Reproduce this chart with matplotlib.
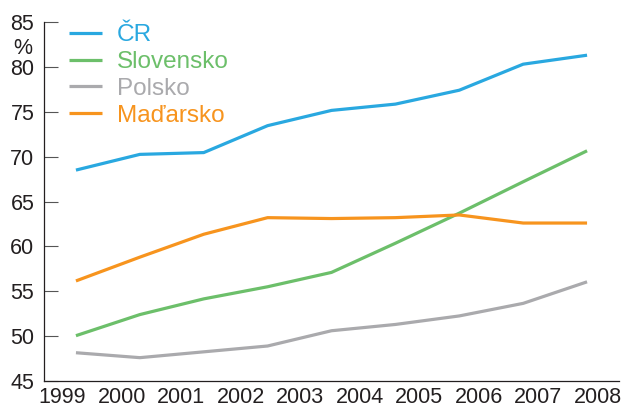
import numpy as np
import matplotlib.pyplot as plt

plt.rcParams['font.family'] = ['Liberation Sans', 'DejaVu Sans']

# values (9 points per series)
cr = [68.5, 70.25, 70.45, 73.45, 75.15, 75.85, 77.4, 80.3, 81.3]
slovensko = [50.05, 52.4, 54.15, 55.5, 57.1, 60.35, 63.7, 67.2, 70.65]
polsko = [48.15, 47.6, 48.25, 48.9, 50.6, 51.3, 52.25, 53.65, 56.05]
madarsko = [56.15, 58.8, 61.35, 63.2, 63.1, 63.2, 63.5, 62.6, 62.6]

series_names = ['ČR', 'Slovensko', 'Polsko', 'Maďarsko']
year_labels = ['1999', '2000', '2001', '2002', '2003', '2004', '2005', '2006', '2007', '2008']

colors = ['#29a8e0', '#6cbf6a', '#aaaaad', '#f7941e']
text_color = '#231f20'

fig = plt.figure(figsize=(6.24, 4.05), dpi=100)
ax = fig.add_axes([44/624, 24/405, 575/624, 359/405])

x = np.arange(len(cr))
for vals, name, col in zip([cr, slovensko, polsko, madarsko], series_names, colors):
    ax.plot(x, vals, color=col, lw=2.3, label=name, solid_capstyle='butt')

ax.set_xlim(-0.5, 8.5)
ax.set_ylim(45, 85)
ax.set_yticks(range(45, 86, 5))

# year labels are spread evenly under the axis, not on the points
label_pos = -0.215 + 0.931 * np.arange(len(year_labels))
ax.set_xticks(label_pos)
ax.set_xticklabels(year_labels)

ax.tick_params(axis='y', direction='in', length=10, width=0.8, color='#555555',
               labelsize=15.5, labelcolor=text_color, pad=7)
ax.tick_params(axis='x', length=0, labelsize=15.5, labelcolor=text_color, pad=4)

for side in ['top', 'right']:
    ax.spines[side].set_visible(False)
for side in ['left', 'bottom']:
    ax.spines[side].set_color(text_color)
    ax.spines[side].set_linewidth(0.9)

fig.text(23/624, 1 - 49/405, '%', fontsize=15.5, color=text_color, ha='center', va='center')

ax.legend(loc='upper left', bbox_to_anchor=(0.0435, 0.994), frameon=False, fontsize=17.5,
          handlelength=1.36, handletextpad=0.62, labelspacing=0.2, borderpad=0,
          borderaxespad=0, labelcolor='linecolor')

plt.savefig('out.png', dpi=100)
